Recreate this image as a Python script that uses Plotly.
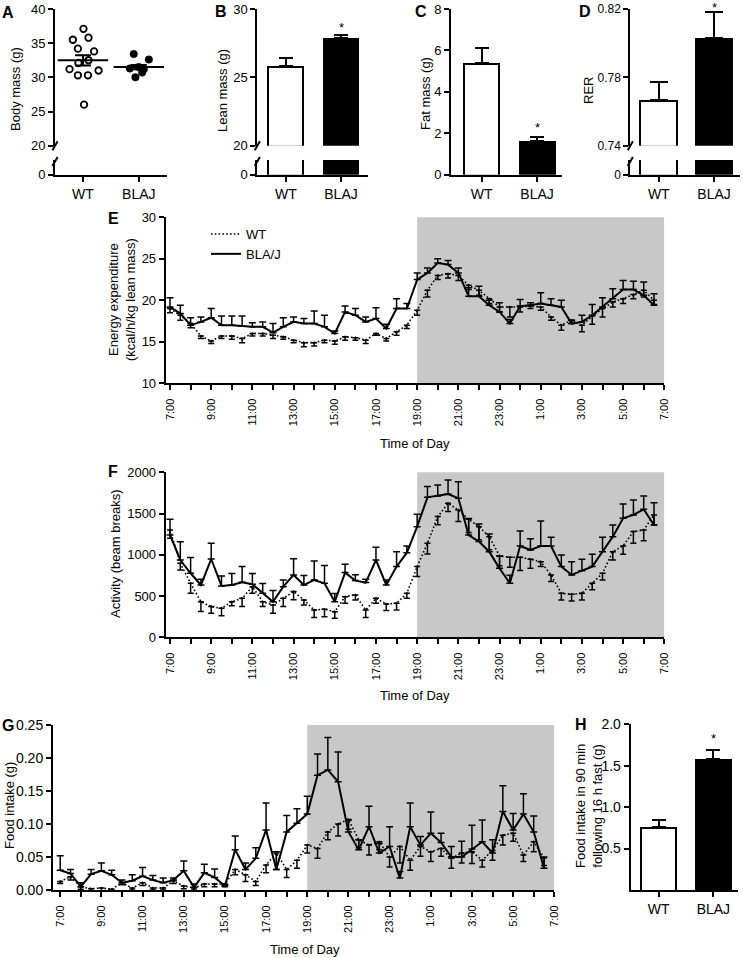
import plotly.graph_objects as go

W, H = 743, 958
FONT = "Liberation Sans, Arial, sans-serif"

# ---------------- data ----------------
groups = ["WT", "BLAJ"]

body_wt = [37.1, 35.5, 35.8, 34.2, 33.8, 32.5, 32.1, 31.2, 31.0, 30.3, 30.3, 26.0]
body_wt_jit = [0.01, -0.18, 0.10, -0.09, 0.20, 0.10, -0.08, -0.24, 0.28, -0.09, 0.09, 0.02]
body_blaj = [33.4, 32.6, 31.3, 31.5, 31.2, 30.0, 30.7]
body_blaj_jit = [-0.09, 0.18, -0.16, 0.00, 0.09, -0.06, 0.06]
body_mean = [32.5, 31.5]
body_sem = [0.75, 0.3]

lean_mean = [25.8, 27.85]
lean_sem = [0.6, 0.22]
fat_mean = [5.37, 1.61]
fat_sem = [0.74, 0.21]
rer_mean = [0.767, 0.803]
rer_sem = [0.010, 0.015]
refeed_mean = [0.76, 1.58]
refeed_sem = [0.08, 0.11]

# time of day: hours after 7:00, 30-min bins
time_h = [i * 0.5 for i in range(48)]
tod_labels = ["7:00", "9:00", "11:00", "13:00", "15:00", "17:00", "19:00",
              "21:00", "23:00", "1:00", "3:00", "5:00", "7:00"]

ee_wt = [19.0, 18.2, 17.2, 15.7, 15.1, 15.7, 15.7, 15.4, 16.0, 16.0, 15.8, 15.6,
         15.2, 14.9, 14.9, 15.2, 15.1, 15.6, 15.5, 15.2, 16.0, 15.4, 16.2, 17.0,
         18.8, 21.2, 23.0, 23.2, 23.0, 21.8, 21.2, 20.2, 19.2, 19.2, 19.2, 19.3,
         19.2, 18.0, 17.0, 17.6, 17.0, 18.1, 19.0, 19.8, 20.2, 20.7, 21.2, 20.0]
ee_wt_sem = [0.5, 0.6, 0.5, 0.3, 0.3, 0.3, 0.4, 0.5, 0.3, 0.3, 0.4, 0.3,
             0.3, 0.5, 0.4, 0.3, 0.4, 0.4, 0.3, 0.4, 0.2, 0.3, 0.4, 0.4,
             0.6, 0.8, 0.5, 0.5, 0.6, 0.5, 0.6, 0.6, 0.6, 1.2, 0.6, 0.3,
             0.4, 0.4, 0.6, 0.4, 0.8, 1.0, 1.0, 0.6, 0.6, 0.5, 0.8, 0.5]
ee_bla = [19.2, 18.4, 17.0, 17.4, 17.9, 17.0, 17.0, 16.9, 16.8, 16.8, 16.1, 16.8,
          17.4, 17.2, 17.2, 16.8, 16.0, 18.6, 18.2, 17.4, 17.8, 16.6, 19.0, 19.0,
          22.5, 23.3, 24.5, 24.3, 23.3, 20.5, 20.5, 19.4, 18.6, 17.2, 19.3, 19.4,
          19.6, 19.4, 19.2, 17.2, 17.4, 18.2, 19.2, 20.2, 21.3, 21.3, 20.6, 19.4]
ee_bla_sem = [1.1, 1.0, 0.9, 0.6, 1.1, 1.1, 1.1, 1.2, 0.5, 0.6, 1.1, 1.1,
              0.6, 0.6, 1.5, 1.4, 0.3, 0.7, 0.8, 0.6, 1.3, 0.5, 1.2, 0.6,
              0.8, 0.6, 0.5, 0.5, 0.6, 1.0, 1.2, 0.6, 1.1, 0.5, 0.8, 0.3,
              1.3, 0.8, 0.8, 0.4, 0.8, 1.3, 1.1, 1.2, 1.1, 1.0, 1.6, 1.4]

act_wt = [1300, 897, 655, 432, 372, 352, 432, 473, 614, 432, 392, 473,
          554, 453, 331, 340, 311, 493, 513, 331, 473, 404, 412, 533,
          857, 1139, 1463, 1624, 1543, 1430, 1341, 1220, 986, 970, 970, 946,
          917, 756, 533, 521, 533, 655, 776, 1038, 1107, 1281, 1301, 1483]
act_wt_sem = [100, 80, 120, 120, 80, 90, 50, 100, 80, 60, 100, 100,
              100, 60, 90, 90, 80, 80, 60, 90, 60, 80, 80, 60,
              120, 130, 100, 100, 140, 160, 160, 160, 120, 120, 160, 110,
              60, 80, 80, 80, 80, 80, 80, 100, 100, 140, 130, 120]
act_bla = [1240, 937, 776, 634, 949, 622, 634, 667, 643, 533, 432, 614,
           756, 634, 695, 655, 432, 784, 687, 663, 937, 634, 857, 1026,
           1341, 1697, 1713, 1737, 1685, 1240, 1160, 1038, 836, 655, 1107, 1059,
           1107, 1107, 857, 756, 808, 857, 1038, 1220, 1442, 1483, 1552, 1362]
act_bla_sem = [190, 220, 190, 70, 190, 120, 140, 190, 130, 120, 135, 80,
               195, 115, 230, 215, 100, 100, 70, 40, 155, 60, 180, 80,
               150, 130, 133, 170, 200, 200, 214, 215, 150, 97, 182, 137,
               303, 105, 141, 161, 138, 149, 174, 142, 174, 182, 161, 270]

food_wt = [0.013, 0.020, 0.005, 0.002, 0.003, 0.001, 0.011, 0.003, 0.011, 0.003, 0.003, 0.014,
           0.006, 0.003, 0.009, 0.009, 0.009, 0.031, 0.023, 0.013, 0.038, 0.056, 0.031, 0.045,
           0.068, 0.063, 0.088, 0.100, 0.107, 0.076, 0.068, 0.073, 0.050, 0.066, 0.045, 0.066,
           0.058, 0.063, 0.048, 0.056, 0.058, 0.045, 0.060, 0.083, 0.086, 0.053, 0.073, 0.049]
food_wt_sem = [0.003, 0.005, 0.004, 0.003, 0.004, 0.002, 0.003, 0.003, 0.004, 0.003, 0.003, 0.004,
               0.004, 0.003, 0.004, 0.004, 0.004, 0.008, 0.010, 0.006, 0.012, 0.025, 0.012, 0.012,
               0.012, 0.015, 0.012, 0.018, 0.015, 0.012, 0.015, 0.012, 0.015, 0.025, 0.015, 0.015,
               0.015, 0.012, 0.015, 0.015, 0.018, 0.010, 0.015, 0.015, 0.012, 0.010, 0.015, 0.012]
food_bla = [0.030, 0.025, 0.005, 0.024, 0.029, 0.023, 0.011, 0.014, 0.021, 0.015, 0.011, 0.015,
            0.029, 0.004, 0.026, 0.019, 0.006, 0.061, 0.031, 0.048, 0.091, 0.031, 0.088, 0.101,
            0.115, 0.174, 0.182, 0.164, 0.088, 0.061, 0.096, 0.056, 0.066, 0.018, 0.096, 0.068,
            0.086, 0.072, 0.050, 0.050, 0.062, 0.073, 0.056, 0.119, 0.091, 0.115, 0.088, 0.033]
food_bla_sem = [0.022, 0.006, 0.006, 0.007, 0.012, 0.007, 0.004, 0.009, 0.013, 0.007, 0.007, 0.003,
                0.015, 0.005, 0.013, 0.013, 0.002, 0.021, 0.010, 0.016, 0.041, 0.027, 0.025, 0.022,
                0.027, 0.032, 0.049, 0.045, 0.018, 0.015, 0.031, 0.015, 0.030, 0.010, 0.036, 0.013,
                0.032, 0.014, 0.016, 0.024, 0.036, 0.033, 0.020, 0.039, 0.025, 0.031, 0.024, 0.017]

# ---------------- helpers ----------------
def dx(a, b):
    return [a / W, b / W]


def dy(top, bottom):
    return [1 - bottom / H, 1 - top / H]


tickfont = dict(size=13, color="black", family=FONT)
base_ax = dict(showline=True, linecolor="black", linewidth=2, ticks="outside",
               ticklen=5, tickwidth=2, tickcolor="black", showgrid=False,
               zeroline=False, tickfont=tickfont, fixedrange=True, automargin=False)


def ax(**kw):
    d = dict(base_ax)
    d.update(kw)
    return d


fig = go.Figure()
layout = {}
xlab_font = dict(size=14, color="black", family=FONT)

# ----- panel A (broken axis: upper segment x/y, lower segment x2/y2) -----
AX = dx(55, 166.7)
layout["xaxis"] = ax(domain=AX, range=[-0.5, 1.5], visible=False, anchor="y")
layout["yaxis"] = ax(domain=dy(9, 145.7), range=[20, 40], tickvals=[20, 25, 30, 35, 40], anchor="x")
layout["xaxis2"] = ax(domain=AX, range=[-0.5, 1.5], tickvals=[0, 1], ticktext=groups,
                      anchor="y2", tickfont=xlab_font)
layout["yaxis2"] = ax(domain=dy(160, 174.7), range=[0, 1], tickvals=[0], anchor="x2")

for xa, ya in [("x", "y"), ("x2", "y2")]:
    fig.add_trace(go.Scatter(x=[0 + j for j in body_wt_jit], y=body_wt, mode="markers",
                             marker=dict(symbol="circle", size=6.5, color="white",
                                         line=dict(color="black", width=1.8)),
                             xaxis=xa, yaxis=ya, showlegend=False))
    fig.add_trace(go.Scatter(x=[1 + j for j in body_blaj_jit], y=body_blaj, mode="markers",
                             marker=dict(symbol="circle", size=7.5, color="black",
                                         line=dict(color="black", width=0.5)),
                             xaxis=xa, yaxis=ya, showlegend=False))
fig.add_trace(go.Scatter(x=[0, 1], y=body_mean, mode="markers",
                         marker=dict(symbol="line-ew", size=36, color="black",
                                     line=dict(color="black", width=2)),
                         error_y=dict(type="data", array=body_sem, width=8, thickness=2, color="black"),
                         xaxis="x", yaxis="y", showlegend=False))

# ----- bar panels -----
OUTLINE = 2.0  # px outline of the open (WT) bar


def add_bars(xa, ya, means, sems, width, capw, yrange, ypx, xppu, with_err=True):
    kw = {}
    if with_err:
        kw["error_y"] = dict(type="data", symmetric=False, array=sems, arrayminus=[0, 0],
                             width=capw, thickness=2, color="black")
    # solid black bars (outline of WT bar and the filled BLAJ bar)
    fig.add_trace(go.Bar(x=[0, 1], y=means, width=width,
                         marker=dict(color="black", line=dict(width=0)),
                         xaxis=xa, yaxis=ya, showlegend=False, **kw))
    # white interior of the WT bar
    yppu = (ypx[1] - ypx[0]) / (yrange[1] - yrange[0])
    fig.add_trace(go.Bar(x=[0], y=[means[0] - OUTLINE / yppu], width=width - 2 * OUTLINE / xppu,
                         marker=dict(color="white", line=dict(width=0)),
                         xaxis=xa, yaxis=ya, showlegend=False))


# B
BX = dx(257.3, 368)
layout["xaxis3"] = ax(domain=BX, range=[-0.52, 1.49], visible=False, anchor="y3")
layout["yaxis3"] = ax(domain=dy(9, 145.7), range=[20, 30], tickvals=[20, 25, 30], anchor="x3")
layout["xaxis4"] = ax(domain=BX, range=[-0.52, 1.49], tickvals=[0, 1], ticktext=groups,
                      anchor="y4", tickfont=xlab_font)
layout["yaxis4"] = ax(domain=dy(160, 174.7), range=[0, 1], tickvals=[0], anchor="x4")
add_bars("x3", "y3", lean_mean, lean_sem, 0.67, 7, [20, 30], [9, 145.7], 55)
add_bars("x4", "y4", lean_mean, lean_sem, 0.67, 7, [0, 1], [160, 174.7], 55, with_err=False)

# C
CX = dx(451, 562)
layout["xaxis5"] = ax(domain=CX, range=[-0.555, 1.45], tickvals=[0, 1], ticktext=groups,
                      anchor="y5", tickfont=xlab_font)
layout["yaxis5"] = ax(domain=dy(9, 174.7), range=[0, 8], tickvals=[0, 2, 4, 6, 8], anchor="x5")
add_bars("x5", "y5", fat_mean, fat_sem, 0.67, 7, [0, 8], [9, 174.7], 55.3)

# D
DX = dx(630.3, 740)
dfont = dict(size=12, color="black", family=FONT)
layout["xaxis6"] = ax(domain=DX, range=[-0.515, 1.47], visible=False, anchor="y6")
layout["yaxis6"] = ax(domain=dy(9, 145.7), range=[0.74, 0.82], tickvals=[0.74, 0.78, 0.82],
                      tickformat=".2f", anchor="x6", tickfont=dfont)
layout["xaxis7"] = ax(domain=DX, range=[-0.515, 1.47], tickvals=[0, 1], ticktext=groups,
                      anchor="y7", tickfont=xlab_font)
layout["yaxis7"] = ax(domain=dy(160, 174.7), range=[0, 0.1], tickvals=[0], anchor="x7", tickfont=dfont)
add_bars("x6", "y6", rer_mean, rer_sem, 0.7, 9, [0.74, 0.82], [9, 145.7], 55.1)
add_bars("x7", "y7", rer_mean, rer_sem, 0.7, 9, [0, 0.1], [160, 174.7], 55.1, with_err=False)

# H
HX = dx(630.7, 738)
layout["xaxis11"] = ax(domain=HX, range=[-0.51, 1.45], tickvals=[0, 1], ticktext=groups,
                       anchor="y11", tickfont=xlab_font)
layout["yaxis11"] = ax(domain=dy(724.3, 890), range=[0, 2.0], tickvals=[0.5, 1.0, 1.5, 2.0],
                       tickformat=".1f", anchor="x11", tickfont=dict(size=14, color="black", family=FONT))
add_bars("x11", "y11", refeed_mean, refeed_sem, 0.68, 7, [0, 2.0], [724.3, 890], 55.1)

# ----- time-course panels -----
tick_h = list(range(25))
tick_txt = []
for h in tick_h:
    tick_txt.append(tod_labels[h // 2] if h % 2 == 0 else "")

time_ax = dict(tickvals=tick_h, ticktext=tick_txt, tickangle=-90, ticklabelstandoff=4,
               tickfont=dict(size=11, color="black", family=FONT))

layout["xaxis8"] = ax(domain=dx(165.7, 664.3), range=[-0.21, 24], anchor="y8", **time_ax)
layout["yaxis8"] = ax(domain=dy(217.3, 383.3), range=[10, 30], tickvals=[10, 15, 20, 25, 30], anchor="x8")
layout["xaxis9"] = ax(domain=dx(165.7, 664.3), range=[-0.21, 24], anchor="y9", **time_ax)
layout["yaxis9"] = ax(domain=dy(472.3, 637.3), range=[0, 2000], tickvals=[0, 500, 1000, 1500, 2000], anchor="x9")
layout["xaxis10"] = ax(domain=dx(53, 554.3), range=[-0.35, 24], anchor="y10", **time_ax)
layout["yaxis10"] = ax(domain=dy(725, 890), range=[0, 0.25], tickvals=[0, 0.05, 0.10, 0.15, 0.20, 0.25],
                       tickformat=".2f", anchor="x10", tickfont=dict(size=14, color="black", family=FONT))

DOT = "1.6px,2.2px"


def add_time(xa, ya, wt, wt_sem, bla, bla_sem):
    fig.add_trace(go.Scatter(x=time_h, y=wt, mode="lines+markers",
                             line=dict(color="black", width=1.6, dash=DOT),
                             marker=dict(symbol="triangle-up", size=3, color="black"),
                             error_y=dict(type="data", symmetric=False, array=[0] * len(wt),
                                          arrayminus=wt_sem, width=3, thickness=1.5, color="black"),
                             xaxis=xa, yaxis=ya, showlegend=False))
    fig.add_trace(go.Scatter(x=time_h, y=bla, mode="lines",
                             line=dict(color="black", width=2),
                             error_y=dict(type="data", symmetric=False, array=bla_sem,
                                          arrayminus=[0] * len(bla), width=3.5, thickness=1.5, color="black"),
                             xaxis=xa, yaxis=ya, showlegend=False))


add_time("x8", "y8", ee_wt, ee_wt_sem, ee_bla, ee_bla_sem)
add_time("x9", "y9", act_wt, act_wt_sem, act_bla, act_bla_sem)
add_time("x10", "y10", food_wt, food_wt_sem, food_bla, food_bla_sem)

# legend entries (panel E)
fig.add_trace(go.Scatter(x=[None], y=[None], mode="lines", name="WT",
                         line=dict(color="black", width=1.6, dash=DOT), xaxis="x8", yaxis="y8"))
fig.add_trace(go.Scatter(x=[None], y=[None], mode="lines", name="BLA/J",
                         line=dict(color="black", width=2), xaxis="x8", yaxis="y8"))

# ----- shapes -----
shapes = []
for xa, ya in [("x8", "y8"), ("x9", "y9"), ("x10", "y10")]:
    shapes.append(dict(type="rect", xref=xa, yref=ya + " domain", x0=12, x1=24, y0=0, y1=1,
                       fillcolor="#c8c8c8", line=dict(width=0), layer="below"))


def slash(xp, yp):
    return dict(type="line", xref="paper", yref="paper",
                x0=(xp - 2.6) / W, x1=(xp + 2.6) / W,
                y0=1 - (yp + 4.5) / H, y1=1 - (yp - 4.5) / H,
                line=dict(color="black", width=2))


for xp in (55, 257.3, 630.3):
    shapes.append(slash(xp, 145.7))
    shapes.append(slash(xp, 161.5))

# ----- annotations -----
anns = []


def ann(text, xp, yp, size=13, bold=False, angle=0, **kw):
    t = "<b>%s</b>" % text if bold else text
    d = dict(text=t, x=xp / W, y=1 - yp / H, xref="paper", yref="paper", showarrow=False,
             textangle=angle, font=dict(size=size, color="black", family=FONT),
             xanchor="center", yanchor="middle")
    d.update(kw)
    anns.append(d)


for letter, xp, yp in [("A", 8, 12), ("B", 221, 11), ("C", 421, 11), ("D", 585, 11),
                       ("E", 113, 219), ("F", 113, 471), ("G", 8, 725), ("H", 581, 724)]:
    ann(letter, xp, yp, size=16, bold=True)

ann("Body mass (g)", 15, 89, angle=-90)
ann("Lean mass (g)", 222, 91, angle=-90)
ann("Fat mass (g)", 425, 94, angle=-90)
ann("RER", 588, 91, angle=-90)
ann("Energy expenditure<br>(kcal/h/kg lean mass)", 122, 300, angle=-90)
ann("Activity (beam breaks)", 115, 554, angle=-90)
ann("Food intake (g)", 9, 806, angle=-90)
ann("Food intake in 90 min<br>following 16 h fast (g)", 589, 806, angle=-90)
ann("Time of Day", 415, 443)
ann("Time of Day", 415, 695)
ann("Time of Day", 305, 949)

# significance asterisks, anchored to bar tops
for xa, ya, means, sems, shift in [("x3", "y3", lean_mean, lean_sem, -2),
                                   ("x5", "y5", fat_mean, fat_sem, 0),
                                   ("x6", "y6", rer_mean, rer_sem, -5),
                                   ("x11", "y11", refeed_mean, refeed_sem, 2)]:
    anns.append(dict(text="*", x=1, y=means[1] + sems[1], xref=xa, yref=ya, showarrow=False,
                     yanchor="bottom", yshift=shift,
                     font=dict(size=13, color="black", family=FONT)))

layout.update(dict(
    width=W, height=H, margin=dict(l=0, r=0, t=0, b=0, autoexpand=False),
    paper_bgcolor="white", plot_bgcolor="white", barmode="overlay",
    font=dict(family=FONT, color="black", size=13),
    shapes=shapes, annotations=anns, bargap=0,
    legend=dict(x=206 / W, y=1 - 219 / H, xanchor="left", yanchor="top",
                bgcolor="rgba(0,0,0,0)", font=dict(size=13, color="black", family=FONT),
                tracegroupgap=0, itemwidth=30),
    showlegend=True,
))
fig.update_layout(layout)
fig.write_html("out.html", config={"displayModeBar": False, "staticPlot": True},
               post_script="document.body.style.margin='0px';")
